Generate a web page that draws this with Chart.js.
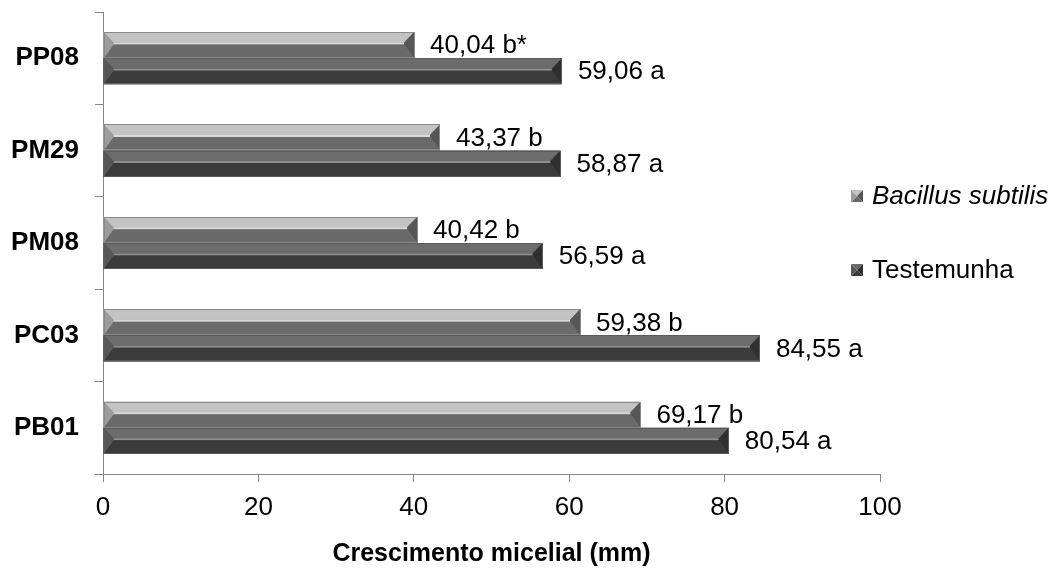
<!DOCTYPE html>
<html>
<head>
<meta charset="utf-8">
<script src="https://cdn.jsdelivr.net/npm/chart.js@4"></script>
<style>
  body { margin: 0; background: #fff; }
  canvas { display: block; }
</style>
</head>
<body>
<canvas id="chart" width="1055" height="576"></canvas>
<script>
const categories = ["PP08", "PM29", "PM08", "PC03", "PB01"];
const bacillusValues = [40.04, 43.37, 40.42, 61.4, 69.17];
const testemunhaValues = [59.06, 58.87, 56.59, 84.55, 80.54];
const bacillusLabels = ["40,04 b*", "43,37 b", "40,42 b", "59,38 b", "69,17 b"];
const testemunhaLabels = ["59,06 a", "58,87 a", "56,59 a", "84,55 a", "80,54 a"];
const xTicks = [0, 20, 40, 60, 80, 100];

const FONT = "'Liberation Sans', Arial, sans-serif";

// facet colours for the bevelled bars
const bevels = [
  { top: "#c3c3c3", line: "#dadada", bottom: "#6a6a6a", left: "#9c9c9c", right: "#565656", edge: "#8a8a8a" },
  { top: "#6c6c6c", line: "#8e8e8e", bottom: "#3b3b3b", left: "#575757", right: "#2f2f2f", edge: "#5a5a5a" },
];

function poly(ctx, pts, color) {
  ctx.beginPath();
  ctx.moveTo(pts[0][0], pts[0][1]);
  for (let i = 1; i < pts.length; i++) ctx.lineTo(pts[i][0], pts[i][1]);
  ctx.closePath();
  ctx.fillStyle = color;
  ctx.fill();
}

function drawBevel(ctx, x0, y0, x1, y1, c, d) {
  const h = y1 - y0;
  const yc = y0 + h * 0.4;
  const yc2 = yc + 2;
  d = Math.min(d, (x1 - x0) / 2);
  poly(ctx, [[x0, y0], [x1, y0], [x1 - d, yc], [x0 + d, yc]], c.top);
  poly(ctx, [[x0 + d, yc], [x1 - d, yc], [x1 - d, yc2], [x0 + d, yc2]], c.line);
  poly(ctx, [[x0, y1], [x1, y1], [x1 - d, yc2], [x0 + d, yc2]], c.bottom);
  poly(ctx, [[x0, y0], [x0 + d, yc], [x0 + d, yc2], [x0, y1]], c.left);
  poly(ctx, [[x1, y0], [x1 - d, yc], [x1 - d, yc2], [x1, y1]], c.right);
  ctx.strokeStyle = c.edge;
  ctx.lineWidth = 1;
  ctx.strokeRect(Math.round(x0) + 0.5, Math.round(y0) + 0.5, Math.round(x1 - x0) - 1, Math.round(y1 - y0) - 1);
}

const bevelPlugin = {
  id: "bevelBars",
  afterDatasetsDraw(chart) {
    const ctx = chart.ctx;
    const allLabels = [bacillusLabels, testemunhaLabels];
    ctx.save();
    chart.data.datasets.forEach((ds, i) => {
      const meta = chart.getDatasetMeta(i);
      meta.data.forEach((bar, j) => {
        const p = bar.getProps(["x", "y", "base", "height"], true);
        drawBevel(ctx, p.base, p.y - p.height / 2, p.x, p.y + p.height / 2, bevels[i], 10);
        ctx.fillStyle = "#000";
        ctx.font = "26px " + FONT;
        ctx.textAlign = "left";
        ctx.textBaseline = "middle";
        ctx.fillText(allLabels[i][j], p.x + 16, p.y + 1);
      });
    });
    ctx.restore();
  },
  afterDraw(chart) {
    const ctx = chart.ctx;
    const items = [
      { text: "Bacillus subtilis", italic: true, y: 196, c: bevels[0] },
      { text: "Testemunha", italic: false, y: 270, c: bevels[1] },
    ];
    ctx.save();
    items.forEach((it) => {
      const x0 = 851, s = 12, y0 = it.y - 6;
      const cx = x0 + s / 2, cy = y0 + s / 2;
      poly(ctx, [[x0, y0], [x0 + s, y0], [cx, cy]], it.c.top);
      poly(ctx, [[x0, y0 + s], [x0 + s, y0 + s], [cx, cy]], it.c.bottom);
      poly(ctx, [[x0, y0], [x0, y0 + s], [cx, cy]], it.c.left);
      poly(ctx, [[x0 + s, y0], [x0 + s, y0 + s], [cx, cy]], it.c.right);
      ctx.fillStyle = "#000";
      ctx.font = (it.italic ? "italic " : "") + "26px " + FONT;
      ctx.textAlign = "left";
      ctx.textBaseline = "middle";
      ctx.fillText(it.text, 872, it.y + 1);
    });
    ctx.restore();
  },
};

new Chart(document.getElementById("chart"), {
  type: "bar",
  data: {
    labels: categories,
    datasets: [
      { label: "Bacillus subtilis", data: bacillusValues, backgroundColor: "#9a9a9a" },
      { label: "Testemunha", data: testemunhaValues, backgroundColor: "#505050" },
    ],
  },
  options: {
    indexAxis: "y",
    responsive: false,
    animation: false,
    devicePixelRatio: 1,
    categoryPercentage: 0.565,
    barPercentage: 1,
    layout: { padding: { top: 12, right: 175, left: 0, bottom: 0 } },
    plugins: {
      legend: { display: false },
      tooltip: { enabled: false },
    },
    scales: {
      x: {
        min: 0,
        max: 100,
        afterBuildTicks: (scale) => {
          scale.ticks = xTicks.map((v) => ({ value: v }));
        },
        afterFit: (scale) => {
          scale.height = 102;
        },
        grid: { drawOnChartArea: false, drawTicks: true, tickLength: 8, color: "#868686" },
        border: { display: true, color: "#868686" },
        ticks: { color: "#000", font: { family: FONT, size: 26 }, padding: 10, maxRotation: 0 },
        title: {
          display: true,
          text: "Crescimento micelial (mm)",
          color: "#000",
          font: { family: FONT, size: 25, weight: "bold" },
          padding: { top: 0, bottom: 7 },
        },
      },
      y: {
        afterFit: (scale) => {
          scale.width = 103;
          scale.paddingTop = 0;
          scale.paddingBottom = 0;
        },
        grid: { drawOnChartArea: false, drawTicks: true, tickLength: 8, color: "#868686", offset: true },
        border: { display: true, color: "#868686" },
        ticks: { color: "#000", font: { family: FONT, size: 26, weight: "bold" }, padding: 16 },
      },
    },
  },
  plugins: [bevelPlugin],
});
</script>
</body>
</html>
